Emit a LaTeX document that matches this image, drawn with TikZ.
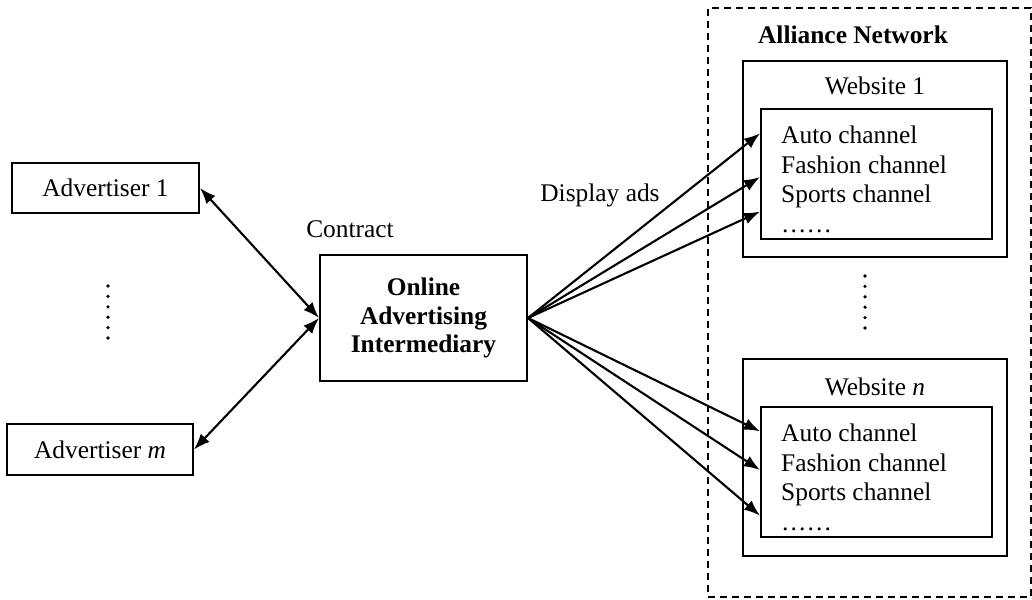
\documentclass[tikz,border=0pt]{standalone}
\usepackage{fontspec}
\setmainfont{Liberation Serif}
\usetikzlibrary{arrows.meta,calc}
\begin{document}
\begin{tikzpicture}[x=1pt,y=-1pt,
  txt/.style={font=\fontsize{25.4}{29.5}\selectfont, inner sep=0pt},
  box/.style={draw, line width=2pt, rectangle, inner sep=0pt},
  link/.style={line width=2.1pt, -{Latex[length=16pt,width=12pt]}},
  duplex/.style={line width=2.1pt, {Latex[length=16pt,width=12pt]}-{Latex[length=16pt,width=12pt]}}]
\useasboundingbox (0,0) rectangle (1032,599);

% alliance network frame
\node[draw, dash pattern=on 7pt off 5pt, line width=1.5pt, inner sep=0pt,
      minimum width=323pt, minimum height=589pt] (net) at (869.5,302.5) {};
\node[txt, font=\fontsize{25.4}{29.5}\selectfont\bfseries] (netlabel) at (853,35) {Alliance Network};

% advertisers
\node[box, txt, draw, line width=2pt, minimum width=187pt, minimum height=50pt] (adv1) at (105.5,188) {Advertiser 1};
\node[box, txt, draw, line width=2pt, minimum width=186pt, minimum height=51pt] (advm) at (100,449.5) {Advertiser \textit{m}};
\foreach \k in {0,...,5} \fill (108,286+10.4*\k) circle (1.8);

% intermediary
\node[box, txt, draw, line width=2pt, minimum width=207pt, minimum height=126pt,
      align=center, font=\fontsize{25.4}{28.5}\selectfont\bfseries] (mid) at (423.5,318)
      {Online\\Advertising\\Intermediary};
\node[txt] (contract) at (350,229) {Contract};
\node[txt] (display) at (600,195) {Display ads};

% website 1
\node[box, minimum width=264pt, minimum height=196pt] (w1) at (875,159) {};
\node[txt] (w1label) at (875,86) {Website 1};
\node[box, minimum width=231pt, minimum height=130pt] (in1) at (876.5,174) {};
\node[txt, anchor=base west] (a1) at (781,143) {Auto channel};
\node[txt, anchor=base west] (f1) at (781,173) {Fashion channel};
\node[txt, anchor=base west] (s1) at (781,202.5) {Sports channel};
\node[txt, anchor=base west] (d1) at (781,232) {……};

\foreach \k in {0,...,5} \fill (865,276+10.4*\k) circle (1.8);

% website n
\node[box, minimum width=264pt, minimum height=197pt] (wn) at (875,457.5) {};
\node[txt] (wnlabel) at (875,387) {Website \textit{n}};
\node[box, minimum width=231pt, minimum height=130pt] (inn) at (876.5,472) {};
\node[txt, anchor=base west] (an) at (781,441) {Auto channel};
\node[txt, anchor=base west] (fn) at (781,471) {Fashion channel};
\node[txt, anchor=base west] (sn) at (781,500) {Sports channel};
\node[txt, anchor=base west] (dn) at (781,530) {……};

% contracts
\draw[duplex] (adv1.east) -- (mid.west);
\draw[duplex] (advm.east) -- (mid.west);

% display ads to channels
\coordinate (t1) at ($(in1.north west)!0.192!(in1.south west)$);
\coordinate (t2) at ($(in1.north west)!0.523!(in1.south west)$);
\coordinate (t3) at ($(in1.north west)!0.785!(in1.south west)$);
\coordinate (t4) at ($(inn.north west)!0.192!(inn.south west)$);
\coordinate (t5) at ($(inn.north west)!0.485!(inn.south west)$);
\coordinate (t6) at ($(inn.north west)!0.83!(inn.south west)$);
\foreach \t in {t1,t2,t3,t4,t5,t6} \draw[link] (mid.east) -- (\t);
\end{tikzpicture}
\end{document}
